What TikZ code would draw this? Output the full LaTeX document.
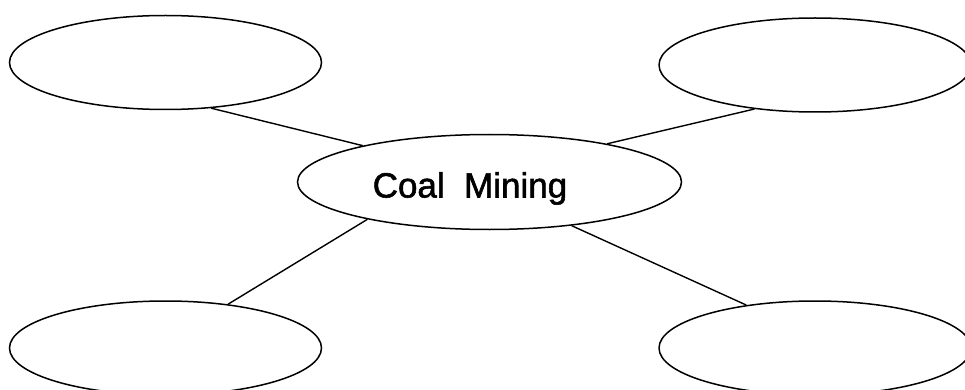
\documentclass[tikz,border=0pt]{standalone}
\usepackage{fontspec}
\setmainfont{Liberation Sans}
\newfontfamily\hubfont[FakeBold=1.6]{Liberation Sans}
\usepackage{tikz}
\usetikzlibrary{shapes.geometric}
\tikzset{
    bubble/.style={draw=black, ellipse, line width=1.5pt, inner sep=0pt, minimum width=312pt, minimum height=94pt},
    hub/.style={bubble, minimum width=384pt, minimum height=95pt},
    link/.style={draw=black, line width=1.4pt}
}
\begin{document}
\begin{tikzpicture}[x=1pt,y=-1pt]
                \useasboundingbox (0,0) rectangle (965,390);
                \node[hub] (mining) at (489.5,182) {};
                \node[font=\hubfont\fontsize{35}{40}\selectfont, anchor=base] (title) at (470,197.5) {Coal\ \ Mining};
                \node[bubble] (tl) at (165.5,62.5) {};
                \node[bubble] (tr) at (815,65) {};
                \node[bubble] (bl) at (165.5,348) {};
                \node[bubble] (br) at (815,348) {};
                \draw[link] (tl.-45.6) -- (mining.164);
                \draw[link] (tr.216.9) -- (mining.18.7);
                \draw[link] (bl.35.1) -- (mining.197.6);
                \draw[link] (br.148.7) -- (mining.-28);
            \end{tikzpicture}
\end{document}
